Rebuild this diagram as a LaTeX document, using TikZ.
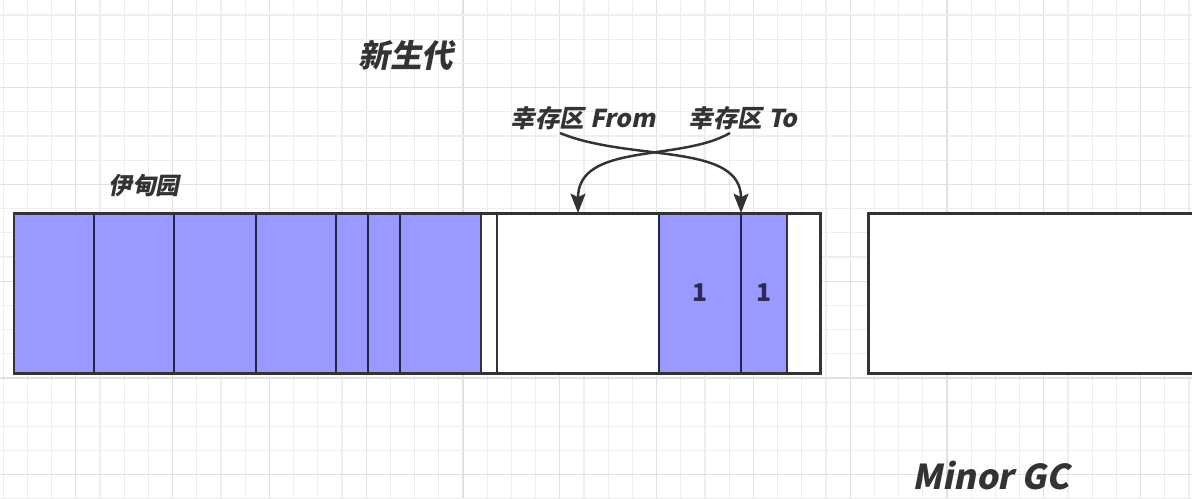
\documentclass[tikz,border=0pt]{standalone}
\usepackage{fontspec}
\newfontfamily\cjk{Noto Sans CJK SC}[FakeSlant=0.2]
\newfontfamily\cjkup{Noto Sans CJK SC}
\usetikzlibrary{arrows.meta,fit}
\definecolor{cellblue}{HTML}{9999FF}
\definecolor{ink}{HTML}{333333}
\definecolor{divider}{HTML}{23254A}
\definecolor{gridminor}{HTML}{EEEEEE}
\definecolor{gridmajor}{HTML}{E0E0E0}
\definecolor{numink}{HTML}{2A2C55}
\begin{document}
\begin{tikzpicture}[x=0.02cm,y=-0.02cm,
  cell/.style={draw=divider, line width=1.6pt, inner sep=0pt, outer sep=0pt},
  fullcell/.style={cell, fill=cellblue},
  emptycell/.style={cell, fill=white},
  framebox/.style={draw=ink, line width=1.7pt, inner sep=0pt, outer sep=0pt},
  lbl/.style={text=ink, inner sep=0pt},
  numlbl/.style={text=numink, inner sep=0pt, font=\cjkup\bfseries\fontsize{14}{16}\selectfont},
  arr/.style={draw=ink, line width=1.4pt, -{Stealth[length=11pt,width=8.5pt,inset=2pt]}}
]
\useasboundingbox (0,0) rectangle (1192,498);
\clip (0,0) rectangle (1192,498);
\fill[white] (0,0) rectangle (1192,498);
% background grid
\foreach \k in {0,...,49}{
  \pgfmathsetmacro{\xx}{3.2+24.2*\k}
  \pgfmathtruncatemacro{\m}{mod(\k,4)}
  \ifnum\m=3
    \draw[gridmajor, line width=0.7pt] (\xx,0) -- (\xx,498);
  \else
    \draw[gridminor, line width=0.6pt] (\xx,0) -- (\xx,498);
  \fi
}
\foreach \k in {0,...,20}{
  \pgfmathsetmacro{\yy}{15+24.2*\k}
  \pgfmathtruncatemacro{\m}{mod(\k,4)}
  \ifnum\m=3
    \draw[gridmajor, line width=0.7pt] (0,\yy) -- (1192,\yy);
  \else
    \draw[gridminor, line width=0.6pt] (0,\yy) -- (1192,\yy);
  \fi
}
% Eden cells
\node[fullcell, fit={(14,213) (94,373)}] (e1) {};
\node[fullcell, fit={(94,213) (174,373)}] (e2) {};
\node[fullcell, fit={(174,213) (256,373)}] (e3) {};
\node[fullcell, fit={(256,213) (336,373)}] (e4) {};
\node[fullcell, fit={(336,213) (368,373)}] (e5) {};
\node[fullcell, fit={(368,213) (400,373)}] (e6) {};
\node[fullcell, fit={(400,213) (481,373)}] (e7) {};
\node[emptycell, draw=ink, fit={(481,213) (497,373)}] (e8) {};
% Survivor From
\node[emptycell, draw=ink, fit={(497,213) (659,373)}] (sfrom) {};
% Survivor To
\node[fullcell, fit={(659,213) (741,373)}] (t1) {};
\node[fullcell, fit={(741,213) (787,373)}] (t2) {};
\node[emptycell, draw=ink, fit={(787,213) (820,373)}] (t3) {};
\node[framebox, fit={(14,213) (820,373)}] (young) {};
% old generation box
\node[framebox, fill=white, fit={(868,213) (1230,373)}] (old) {};
% numbers
\node[numlbl] (n1) at (t1.center) {1};
\node[numlbl] (n2) at (t2.center) {1};
% labels
\node[lbl, font=\cjk\bfseries\fontsize{18}{20}\selectfont] (title) at (406,55) {新生代};
\node[lbl, font=\cjk\bfseries\fontsize{13.5}{15}\selectfont] (eden) at (144,186) {伊甸园};
\node[lbl, font=\cjk\bfseries\fontsize{14}{16}\selectfont] (from) at (583,118) {幸存区 From};
\node[lbl, font=\cjk\bfseries\fontsize{14}{16}\selectfont] (to) at (743,118) {幸存区 To};
\node[lbl, font=\cjk\bfseries\fontsize{19.5}{22}\selectfont] (gc) at (991,475) {Minor GC};
% arrows
\coordinate (fromstart) at (560,133);
\coordinate (tostart) at (730,133);
\draw[arr] (fromstart) .. controls (630,162) and (741,142) .. (t2.north west);
\draw[arr] (tostart) .. controls (680,162) and (578,142) .. (sfrom.north);
\end{tikzpicture}
\end{document}
